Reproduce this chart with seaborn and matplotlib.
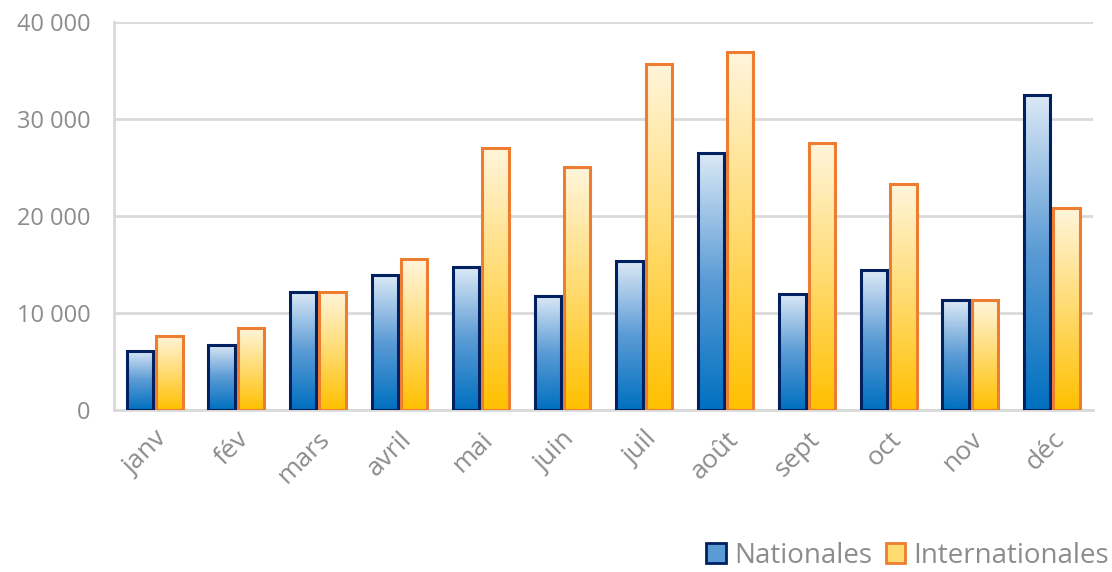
import numpy as np
import pandas as pd
import matplotlib
matplotlib.use("Agg")
import matplotlib.pyplot as plt
from matplotlib.colors import LinearSegmentedColormap
from matplotlib.patches import Patch
from matplotlib.ticker import FuncFormatter, MultipleLocator
import seaborn as sns

months = ["janv", "fév", "mars", "avril", "mai", "juin",
          "juil", "août", "sept", "oct", "nov", "déc"]
nationales = [6100, 6700, 12200, 13900, 14700, 11750,
              15350, 26500, 11950, 14400, 11300, 32450]
internationales = [7650, 8450, 12200, 15550, 27000, 25050,
                   35650, 36900, 27500, 23250, 11300, 20850]
series = ["Nationales", "Internationales"]

df = pd.DataFrame({
    "mois": months * 2,
    "serie": [series[0]] * len(months) + [series[1]] * len(months),
    "valeur": nationales + internationales,
})

edge_colors = {"Nationales": "#002060", "Internationales": "#ed7d31"}
grad_maps = {
    "Nationales": LinearSegmentedColormap.from_list("bl", ["#0070c0", "#5b9bd5", "#dce9f6"]),
    "Internationales": LinearSegmentedColormap.from_list("or", ["#ffc000", "#ffdb70", "#fff5dc"]),
}
text_gray = "#8c8c8c"

sns.set_theme(style="white")
plt.rcParams["font.family"] = ["Open Sans", "DejaVu Sans"]

fig = plt.figure(figsize=(11.12, 5.72), dpi=100)
ax = fig.add_axes([0.1025, 0.283, 0.880, 0.679])

sns.barplot(data=df, x="mois", y="valeur", hue="serie", order=months,
            hue_order=series, width=0.72, gap=0.1, ax=ax,
            palette=["#5b9bd5", "#ffdb70"], legend=False, errorbar=None)

# per-bar vertical gradients clipped to each bar
gradient = np.linspace(0, 1, 256).reshape(-1, 1)
bars = [p for p in ax.patches]
n = len(months)
for i, bar in enumerate(bars):
    s = series[0] if i < n else series[1]
    x0, y0 = bar.get_x(), bar.get_y()
    w, h = bar.get_width(), bar.get_height()
    bar.set_facecolor("none")
    bar.set_edgecolor(edge_colors[s])
    bar.set_linewidth(2.2)
    bar.set_zorder(3)
    im = ax.imshow(gradient, extent=[x0, x0 + w, y0, y0 + h], origin="lower",
                   aspect="auto", cmap=grad_maps[s], zorder=2.5, interpolation="bicubic")
    im.set_clip_path(bar)

ax.set_xlim(-0.5, n - 0.5)
ax.set_ylim(0, 40000)
ax.yaxis.set_major_locator(MultipleLocator(10000))
ax.yaxis.set_major_formatter(FuncFormatter(lambda v, _: f"{int(v):,}".replace(",", " ")))
ax.grid(axis="y", color="#d9d9d9", linewidth=2, zorder=0)
ax.set_axisbelow(True)
for side in ("top", "right"):
    ax.spines[side].set_visible(False)
for side in ("left", "bottom"):
    ax.spines[side].set_color("#d9d9d9")
    ax.spines[side].set_linewidth(2)
ax.set_xlabel("")
ax.set_ylabel("")
ax.tick_params(axis="y", length=0, colors=text_gray, labelsize=17, pad=17)
ax.tick_params(axis="x", length=0, colors=text_gray, labelsize=19, pad=12)
plt.setp(ax.get_xticklabels(), rotation=45, ha="right", rotation_mode="anchor")

handles = [Patch(facecolor="#5b9bd5", edgecolor=edge_colors[series[0]], linewidth=2),
           Patch(facecolor="#ffdb70", edgecolor=edge_colors[series[1]], linewidth=2)]
fig.legend(handles, series, loc="lower right", bbox_to_anchor=(1.02, -0.04),
           ncol=2, frameon=False, fontsize=20, labelcolor=text_gray,
           handlelength=0.7, handleheight=0.7, handletextpad=0.3, columnspacing=0.5)

fig.savefig("out.png", dpi=100, facecolor="white")
